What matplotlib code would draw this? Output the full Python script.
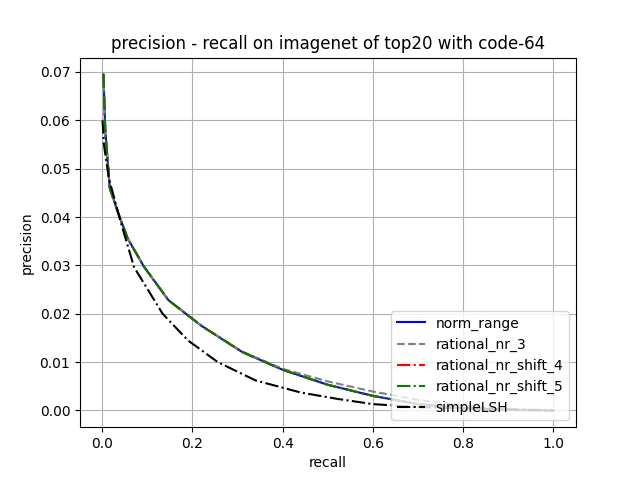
import matplotlib
matplotlib.use("Agg")
import matplotlib.pyplot as plt

recall_main = [0.003, 0.007, 0.017, 0.035, 0.057, 0.093, 0.147, 0.22, 0.31, 0.40, 0.50, 0.60, 0.70, 0.80, 0.90, 1.0]
norm_range = [0.0695, 0.058, 0.046, 0.041, 0.0355, 0.0297, 0.0228, 0.0175, 0.0121, 0.0084, 0.0053, 0.0030, 0.0013, 0.0005, 0.0001, 0.0]
rational_nr_3 = [0.0695, 0.058, 0.046, 0.041, 0.0355, 0.0297, 0.0228, 0.0175, 0.0122, 0.0086, 0.0060, 0.0039, 0.0022, 0.0010, 0.0003, 0.0]
rational_nr_shift_4 = [0.0695, 0.058, 0.046, 0.041, 0.0355, 0.0297, 0.0228, 0.0175, 0.0121, 0.0084, 0.0053, 0.0030, 0.0013, 0.0005, 0.0001, 0.0]
rational_nr_shift_5 = [0.0695, 0.058, 0.046, 0.041, 0.0355, 0.0297, 0.0228, 0.0175, 0.0121, 0.0084, 0.0053, 0.0030, 0.0013, 0.0005, 0.0001, 0.0]

recall_lsh = [0.001, 0.004, 0.015, 0.042, 0.071, 0.134, 0.19, 0.256, 0.34, 0.44, 0.52, 0.60, 0.70, 0.80, 0.90, 1.0]
simpleLSH = [0.060, 0.055, 0.048, 0.0387, 0.0296, 0.020, 0.0145, 0.010, 0.0062, 0.0037, 0.0024, 0.0013, 0.0007, 0.0004, 0.0002, 0.0]

fig, ax = plt.subplots(figsize=(6.4, 4.8), dpi=100)
ax.plot(recall_main, norm_range, color='blue', linestyle='-', label='norm_range')
ax.plot(recall_main, rational_nr_3, color='gray', linestyle='--', label='rational_nr_3')
ax.plot(recall_main, rational_nr_shift_4, color='red', linestyle='-.', label='rational_nr_shift_4')
ax.plot(recall_main, rational_nr_shift_5, color='green', linestyle='-.', label='rational_nr_shift_5')
ax.plot(recall_lsh, simpleLSH, color='black', linestyle='-.', label='simpleLSH')
ax.set_title('precision - recall on imagenet of top20 with code-64')
ax.set_xlabel('recall')
ax.set_ylabel('precision')
ax.grid(True)
ax.legend(loc='lower right')
fig.savefig('out.png')
